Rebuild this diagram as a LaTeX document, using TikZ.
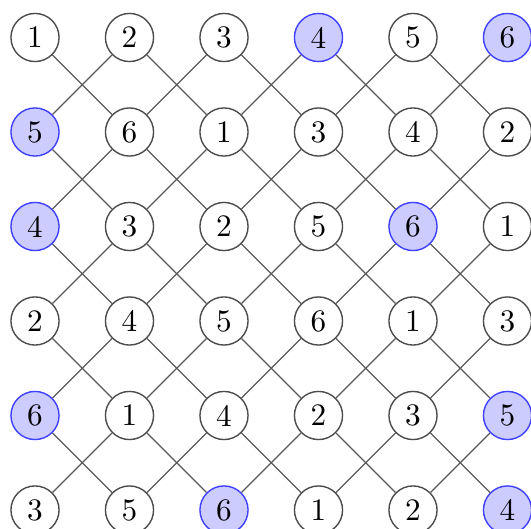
\documentclass[tikz,border=0pt]{standalone}
\begin{document}
\begin{tikzpicture}[x=0.32pt,y=-0.32pt,
  nd/.style={circle,draw=black!70,line width=0.45pt,minimum size=15.4pt,inner sep=0pt,font=\fontsize{10}{12}\selectfont},
  s0/.style={nd},
  s1/.style={nd,fill=blue!20,draw=blue!75},
  edge/.style={draw=black!65,line width=0.42pt}]
\useasboundingbox (0,0) rectangle (531,529);
\clip (0,0) rectangle (531,529);
\foreach \r/\row in {
  1/{1/0,2/0,3/0,4/1,5/0,6/1},
  2/{5/1,6/0,1/0,3/0,4/0,2/0},
  3/{4/1,3/0,2/0,5/0,6/1,1/0},
  4/{2/0,4/0,5/0,6/0,1/0,3/0},
  5/{6/1,1/0,4/0,2/0,3/0,5/1},
  6/{3/0,5/0,6/1,1/0,2/0,4/1}}{
  \foreach \lab/\h [count=\c] in \row {
    \node[s\h] (n-\r-\c) at ({35+94.5*(\c-1)},{37.5+94.5*(\r-1)}) {\lab};
  }
}
\foreach \r in {1,...,5}{
  \foreach \c in {1,...,6}{
    \pgfmathtruncatemacro\rn{\r+1}
    \pgfmathtruncatemacro\cr{\c+1}
    \pgfmathtruncatemacro\cl{\c-1}
    \ifnum\c<6 \draw[edge] (n-\r-\c) -- (n-\rn-\cr); \fi
    \ifnum\c>1 \draw[edge] (n-\r-\c) -- (n-\rn-\cl); \fi
  }
}
\end{tikzpicture}
\end{document}
